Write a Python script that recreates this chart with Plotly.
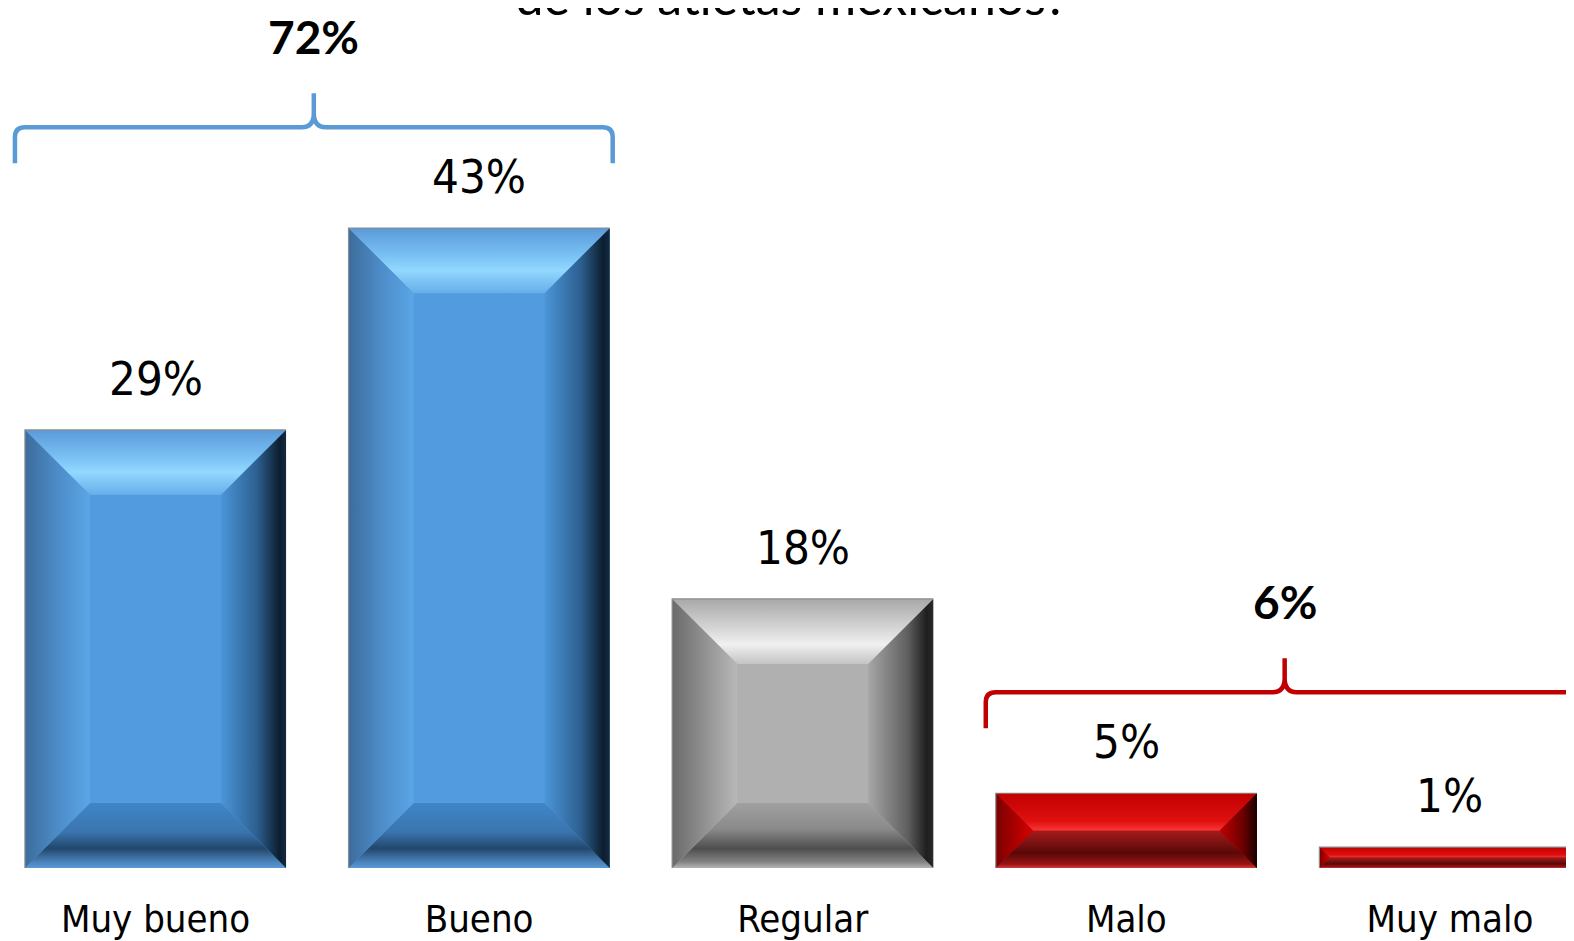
import plotly.graph_objects as go

# --- data -------------------------------------------------------------
CATEGORIES = ["Muy bueno", "Bueno", "Regular", "Malo", "Muy malo"]
VALUES = [29.3, 42.8, 18.0, 5.0, 1.4]
TONES = ["blue", "blue", "gray", "red", "red"]
GROUPS = [(0, 1, "blue"), (3, 4, "red")]
TITLE = "¿Cómo calificaría el desempeño<br>de los atletas mexicanos?"

# --- geometry / style ---------------------------------------------------
W, H = 1574, 941
MB = 81
X_RANGE = [-0.4558, 4.408]
PX_X = W / (X_RANGE[1] - X_RANGE[0])
PX_Y = 14.95
Y_RANGE = [0, (H - MB) / PX_Y]
BAR_W = 0.807
BEVEL_PX = 65

NARROW = "Liberation Sans Narrow, Arial Narrow, DejaVu Sans Condensed, sans-serif"
SANS = "Lato, Carlito, Calibri, Open Sans, sans-serif"

STYLE = {
    "blue": dict(
        face="#519bde",
        top=[[0, "#66aee9"], [0.35, "#92d8ff"], [0.6, "#78bff3"], [1, "#5a9ad9"]],
        left=[[0, "#3c6c9c"], [0.5, "#4d8cc8"], [1, "#5aa6e6"]],
        right=[[0, "#4b95d8"], [0.55, "#2d6090"], [0.9, "#0c1e30"], [1, "#142a40"]],
        bottom=[[0, "#5b9ad6"], [0.08, "#4d86bf"], [0.3, "#22476c"], [0.55, "#3a74ad"], [1, "#3f86c9"]],
    ),
    "gray": dict(
        face="#b0b0b0",
        top=[[0, "#c4c4c4"], [0.3, "#f0f0f0"], [0.6, "#d0d0d0"], [1, "#a8a8a8"]],
        left=[[0, "#6a6a6a"], [1, "#b8b8b8"]],
        right=[[0, "#a6a6a6"], [0.6, "#606060"], [0.9, "#1e1e1e"], [1, "#2a2a2a"]],
        bottom=[[0, "#b4b4b4"], [0.1, "#808080"], [0.3, "#4e4e4e"], [0.6, "#8a8a8a"], [1, "#a0a0a0"]],
    ),
    "red": dict(
        face="#a01818",
        top=[[0, "#ff3535"], [0.25, "#e01010"], [1, "#c00000"]],
        left=[[0, "#7a0000"], [1, "#d80000"]],
        right=[[0, "#c00000"], [0.6, "#700000"], [1, "#1a0000"]],
        bottom=[[0, "#d23c3c"], [0.1, "#9a1414"], [0.4, "#5a0808"], [1, "#a51c1c"]],
    ),
}
BRACKET = {"blue": "#5b9bd5", "red": "#c00000"}

idx = list(range(len(CATEGORIES)))
fig = go.Figure()

fig.add_trace(go.Bar(
    x=idx, y=VALUES, width=BAR_W,
    marker=dict(color=[STYLE[t]["face"] for t in TONES], line=dict(width=0)),
    hoverinfo="skip", showlegend=False,
))


def poly(xs, ys, scale, kind, start, stop):
    fig.add_trace(go.Scatter(
        x=xs + [xs[0]], y=ys + [ys[0]], mode="lines", fill="toself",
        line=dict(width=0),
        fillgradient=dict(type=kind, colorscale=scale, start=start, stop=stop),
        hoverinfo="skip", showlegend=False,
    ))


# bevel facets, derived from each bar's value
ox, oy = [], []
for i, v, t in zip(idx, VALUES, TONES):
    s = STYLE[t]
    b = min(BEVEL_PX, v * PX_Y / 2)
    bx, by = b / PX_X, b / PX_Y
    xl, xr = i - BAR_W / 2, i + BAR_W / 2
    il, ir, it, ib = xl + bx, xr - bx, v - by, by
    poly([xl, xr, ir, il], [v, v, it, it], s["top"], "vertical", it, v)
    poly([xl, xr, ir, il], [0, 0, ib, ib], s["bottom"], "vertical", 0, ib)
    poly([xl, il, il, xl], [v, it, ib, 0], s["left"], "horizontal", xl, il)
    poly([xr, xr, ir, ir], [v, 0, ib, it], s["right"], "horizontal", ir, xr)
    ox += [xl, xl, xr, None]
    oy += [0, v, v, None]

fig.add_trace(go.Scatter(x=ox, y=oy, mode="lines", line=dict(color="#8c8c8c", width=1.2),
                         hoverinfo="skip", showlegend=False))

# value labels
for i, v in zip(idx, VALUES):
    fig.add_annotation(x=i, y=v, text=f"{round(v)}%", showarrow=False, yanchor="bottom",
                       yshift=22, font=dict(family=NARROW, size=47, color="#000000"))

# group brackets with summed labels
shapes = []
for a, z, tone in GROUPS:
    top = max(VALUES[a:z + 1])
    yh = top + 101 / PX_Y
    ye = yh - 36 / PX_Y
    yp = yh + 34 / PX_Y
    xl = a - BAR_W / 2 - 10 / PX_X
    xr = z + BAR_W / 2 + 3 / PX_X
    xm = (xl + xr) / 2
    rx, ry = 10 / PX_X, 10 / PX_Y
    cx, cy = 12 / PX_X, 14 / PX_Y
    path = (f"M {xl},{ye} L {xl},{yh - ry} Q {xl},{yh} {xl + rx},{yh} "
            f"L {xm - cx},{yh} Q {xm},{yh} {xm},{yh + cy} L {xm},{yp} "
            f"M {xm},{yh + cy} Q {xm},{yh} {xm + cx},{yh} "
            f"L {xr - rx},{yh} Q {xr},{yh} {xr},{yh - ry} L {xr},{ye}")
    shapes.append(dict(type="path", path=path, xref="x", yref="y",
                       line=dict(color=BRACKET[tone], width=4.5)))
    total = sum(round(v) for v in VALUES[a:z + 1])
    fig.add_annotation(x=xm, y=yp, text=f"<b>{total}%</b>", showarrow=False,
                       yanchor="middle", yshift=57,
                       font=dict(family=SANS, size=46, color="#000000"))

# title (only its last line sits inside the frame)
fig.add_annotation(x=0.4975, y=1, xref="paper", yref="paper", text=TITLE, showarrow=False,
                   yanchor="bottom", yshift=-20, font=dict(family=SANS, size=50, color="#000000"))

fig.update_layout(
    width=W, height=H, margin=dict(l=0, r=0, t=0, b=MB),
    paper_bgcolor="#ffffff", plot_bgcolor="#ffffff",
    shapes=shapes, bargap=0,
)
fig.update_xaxes(range=X_RANGE, tickvals=idx, ticktext=CATEGORIES, showgrid=False,
                 zeroline=False, showline=False, ticks="", ticklabelstandoff=25,
                 automargin=False, tickfont=dict(family=NARROW, size=38, color="#000000"))
fig.update_yaxes(range=Y_RANGE, visible=False, automargin=False)

fig.write_html("out.html")
